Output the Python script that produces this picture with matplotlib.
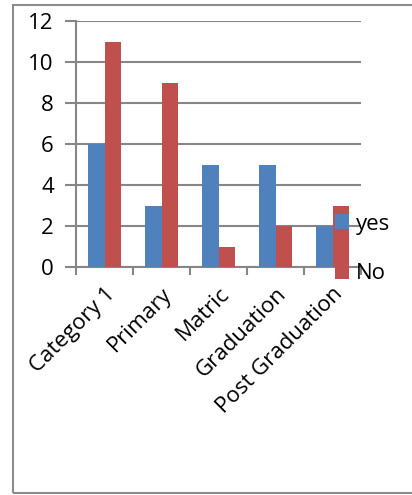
import numpy as np
import matplotlib.pyplot as plt
from matplotlib.patches import Rectangle

categories = ['Category 1', 'Primary', 'Matric', 'Graduation', 'Post Graduation']
yes = [6, 3, 5, 5, 2]
no = [11, 9, 1, 2, 3]

plt.rcParams['font.family'] = ['Open Sans', 'DejaVu Sans']

fig = plt.figure(figsize=(4.12, 4.95), dpi=100)
# outer chart frame like the Excel chart area
fig.patches.append(Rectangle((13 / 412, 2 / 495), 1.0, 488 / 495, transform=fig.transFigure,
                             fill=False, edgecolor='#8c8c8c', linewidth=1.5))

ax = fig.add_axes([76 / 412, 1 - 267 / 495, (361 - 76) / 412, (267 - 21) / 495])

x = np.arange(len(categories))
w = 0.29
ax.bar(x - w / 2, yes, w, color='#4F81BD', label='yes', zorder=3)
ax.bar(x + w / 2, no, w, color='#C0504D', label='No', zorder=3)

ax.set_xlim(-0.5, len(categories) - 0.5)
ax.set_ylim(0, 12)
ax.set_yticks(range(0, 13, 2))
ax.yaxis.grid(True, color='#868686', linewidth=1.5, zorder=0)
for s in ['top', 'right']:
    ax.spines[s].set_visible(False)
ax.spines['left'].set_color('#868686')
ax.spines['bottom'].set_color('#868686')
ax.spines['left'].set_linewidth(1.5)
ax.spines['bottom'].set_linewidth(1.5)

ax.set_xticks(np.arange(len(categories) + 1) - 0.5, minor=False)
ax.set_xticklabels([])
ax.tick_params(axis='x', length=6, color='#868686', width=1.5)
ax.tick_params(axis='y', length=8, color='#868686', width=1.5, labelsize=16, pad=8)
ax.set_xticks(x, minor=True)
ax.set_xticklabels(categories, minor=True, rotation=45, ha='right', rotation_mode='anchor', fontsize=16)
ax.tick_params(axis='x', which='minor', length=0, pad=12)

ax.legend(loc='center left', bbox_to_anchor=(0.908, 0.073), frameon=False, fontsize=16,
          handlelength=0.65, handleheight=0.65, handletextpad=0.3, labelspacing=1.3,
          borderaxespad=0, borderpad=0)

fig.savefig('out.png', dpi=100)
